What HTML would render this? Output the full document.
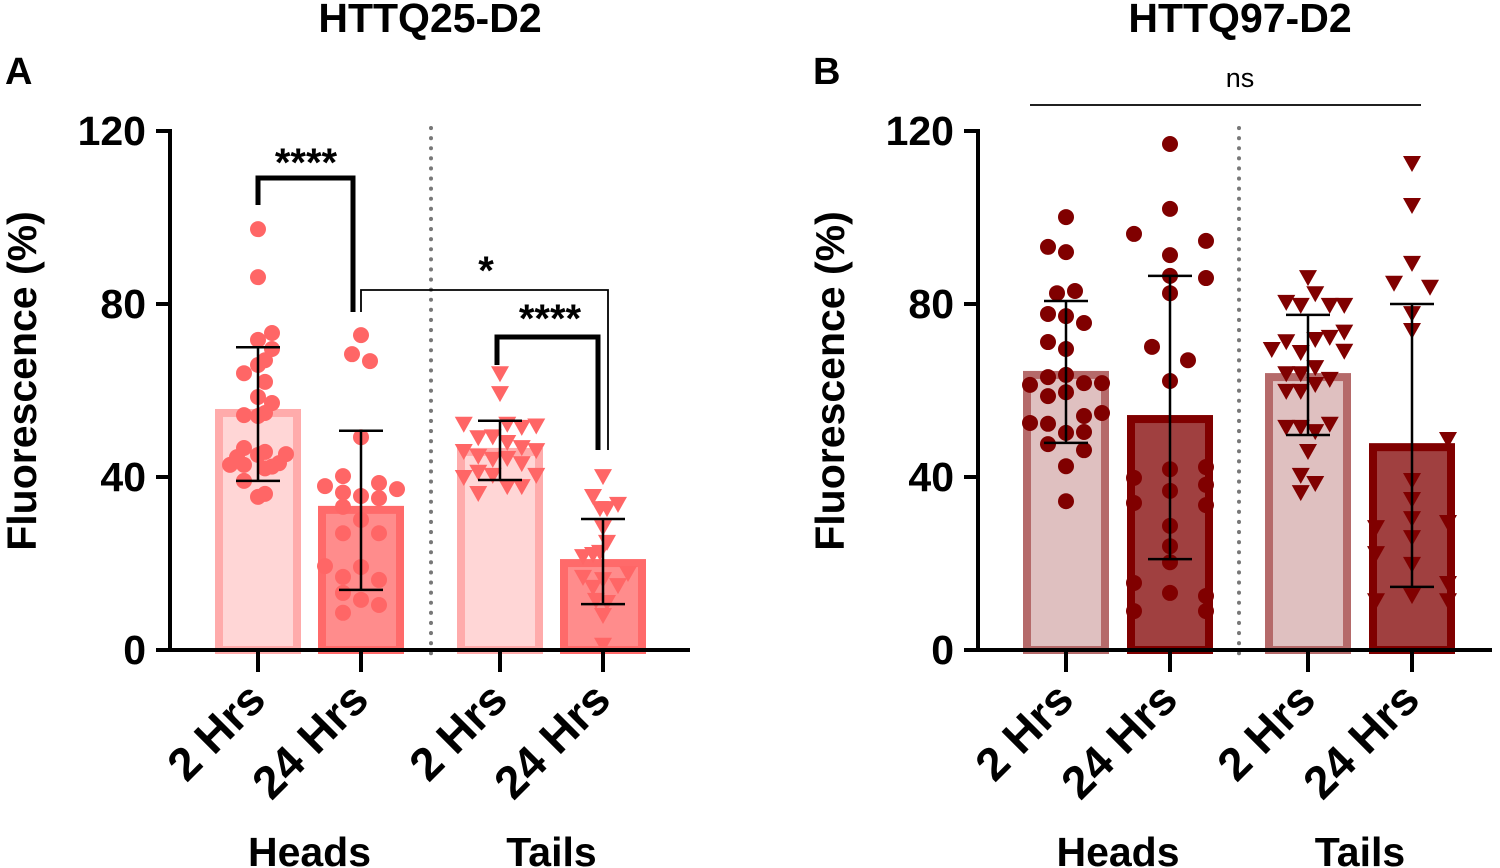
<!DOCTYPE html>
<html><head><meta charset="utf-8">
<style>
html,body{margin:0;padding:0;background:#fff;}
svg{display:block;font-family:"Liberation Sans",Arial,sans-serif;}
</style></head>
<body>
<svg id="chart" width="1500" height="868" viewBox="0 0 1500 868" xmlns="http://www.w3.org/2000/svg"></svg>
<script>
const yTicks=[0,40,80,120];
const xLabels=["2 Hrs","24 Hrs","2 Hrs","24 Hrs"];
const groupLabels=["Heads","Tails"];
// Panel A values
const a_h2=[97.3,86.2,73.3,71.7,69.6,67,65.9,64,62,58.5,57.1,54.3,54.1,54.8,46.7,45.8,45.3,45.1,44.6,42.8,42.8,43.2,42.4,42,39.1,36.1,35.4];
const a_h24=[72.8,68.4,66.8,49.2,40.2,37.9,38.6,37.2,36.4,35.6,35.1,33.1,30.1,27,27,19.4,19.2,16.9,16.2,13.2,11.6,10.4,8.6];
const a_t2=[64,59.4,52.3,52.3,51.6,51.9,49.2,49.4,48.1,46,46.9,46.2,44.9,44.2,44.4,43.2,40,41.2,40.5,40.5,37.9,37.9,36.3];
const a_t24=[40.2,35.6,33.8,32.8,32.8,28.4,25,21.7,22.2,22.7,16.9,14.6,16.4,15,17.8,11.6,11.1,8.1,1.2];
const a_means=[54.8,32.4,45.8,20.1];
const a_errHi=[70,50.7,53,30.3];
const a_errLo=[39.1,13.9,39.3,10.6];
// Panel B values
const b_h2=[100.1,93.2,92,82.5,83,77.7,77.2,75.6,71.2,69.6,63.1,63.6,61.3,61.7,61.7,58.7,59.6,54.1,54.8,52.5,52.3,50.2,50.4,47.6,46.2,42.5,34.4];
const b_h24=[117,102,96.2,94.6,91.3,86,86.5,82.5,70.1,67,62.2,41.8,39.8,42.3,36.8,34,38.2,33.5,28.7,24,20.3,15.5,13.2,12.5,9,9];
const b_t2=[86.2,82.5,80.5,79.8,79.8,79.8,73.6,71.4,71.9,72.4,69.6,68.9,69.2,64,64,65.4,62.7,59.9,59.9,61.5,51.6,51.6,50.6,52.3,46,40.5,38.6,36.5];
const b_t24=[112.6,102.9,89.5,84.9,84,77.9,74,48.8,39.3,34.9,30.5,26.1,28.4,29.6,22.4,19.9,15.5,12.7,11.5,11.5];
const b_means=[63.6,53.4,63.1,46.9];
const b_errHi=[80.7,86.5,77.5,80];
const b_errLo=[47.9,21,49.7,14.6];
// jitter offsets (marker slots, layout only)
const jA1=[0,0,1,0,1,.5,0,-1,.5,0,1,-1,0,.5,-1,.5,2,0,-1.5,-2,-1,1.5,1,.5,-1,.5,0];
const jA2=[0,-.5,.5,0,-1,-2,1,2,-1,0,1,-1,0,-1,1,-2,0,-1,1,-1,0,1,-1];
const jA3=[0,0,-2.5,.5,1.5,2.5,-1.5,-.5,.5,-2.5,1.5,2.5,-1.5,-.5,.5,1.5,-2.5,-1.5,-.5,2.5,.5,1.5,-1.5];
const jA4=[0,-1,1.5,-.3,.4,0,.4,-2,-1,-.3,-2,-1,0,1.5,2.5,-.7,.4,0,0];
const jB1=[0,-1,0,-.5,.5,-1,0,1,-1,0,-1,0,-2,1,2,-1,0,1,2,-2,-1,0,1,-1,1,0,0];
const jB2=[0,0,-2,2,0,2,0,0,-1,1,0,0,-2,2,0,-2,2,2,0,0,0,-2,0,2,-2,2];
const jB3=[0,.5,-1.5,-.5,1.5,2.5,2.5,-1.5,.5,1.5,-2.5,-.5,2.5,-1.5,-.5,.5,1.5,-1.5,-.5,.5,-1.5,-.5,.5,1.5,0,-.5,.5,-.5];
const jB4=[0,0,0,-1,1,0,0,2,0,0,0,0,-2,2,-2,0,2,0,-2,2];

const NS="http://www.w3.org/2000/svg";
const svg=document.getElementById('chart');
function mk(tag,attrs,parent){const e=document.createElementNS(NS,tag);for(const k in attrs)e.setAttribute(k,attrs[k]);(parent||svg).appendChild(e);return e;}
function yS(v){return 650-v*(519/120);}

function panel(cfg){
  const g=mk('g',{});
  
  
  const centers=cfg.centers;
  const sep=mk('line',{x1:cfg.sepX,y1:128,x2:cfg.sepX,y2:656,stroke:'#777','stroke-width':4,'stroke-dasharray':'0.1 10','stroke-linecap':'round'},g);
  
  
  for(let i=0;i<4;i++){
    const light=(i%2===0);
    const top=yS(cfg.means[i]);
    const r=mk('rect',{x:centers[i]-39,y:top,width:78,height:650-top,fill:light?cfg.lightFill:cfg.darkFill,stroke:light?cfg.lightStroke:cfg.darkStroke,'stroke-width':8},g);
    
    
  }
  for(let i=0;i<4;i++){
    const vals=cfg.series[i], jit=cfg.jit[i];
    vals.forEach((v,k)=>{
      const x=centers[i]+(jit[k]||0)*cfg.slot[i], y=yS(v);
      let p;
      if(i<2){p=mk('circle',{cx:x,cy:y,r:8,fill:cfg.marker},g);}
      else{p=mk('polygon',{points:`${x-9},${y-7} ${x+9},${y-7} ${x},${y+9}`,fill:cfg.marker},g);}
      
      
    });
  }
  for(let i=0;i<4;i++){
    const x=centers[i],hi=yS(cfg.hi[i]),lo=yS(cfg.lo[i]);
    const eg=mk('g',{stroke:'#000','stroke-width':2.5},g);
    
    
    mk('line',{x1:x,y1:hi,x2:x,y2:lo},eg);
    mk('line',{x1:x-22,y1:hi,x2:x+22,y2:hi},eg);
    mk('line',{x1:x-22,y1:lo,x2:x+22,y2:lo},eg);
  }
  const ax=cfg.axisX;
  const yAx=mk('line',{x1:ax,y1:129,x2:ax,y2:652,stroke:'#000','stroke-width':4},g);
  
  const xAx=mk('line',{x1:ax-2,y1:650,x2:cfg.axisEnd,y2:650,stroke:'#000','stroke-width':4},g);
  
  yTicks.forEach(t=>{
    const y=yS(t);
    mk('line',{x1:ax-14,y1:y,x2:ax,y2:y,stroke:'#000','stroke-width':4},g);
    const tx=mk('text',{x:ax-24,y:y+14,'text-anchor':'end','font-size':41,'font-weight':'bold'},g);
    tx.textContent=t;
    
  });
  centers.forEach((c,i)=>{
    mk('line',{x1:c,y1:650,x2:c,y2:672,stroke:'#000','stroke-width':4},g);
    const tx=mk('text',{x:c+10,y:702,'text-anchor':'end','font-size':46,'font-weight':'bold',transform:`rotate(-45 ${c+10} 702)`},g);
    tx.textContent=xLabels[i];
    
  });
  groupLabels.forEach((l,i)=>{
    const tx=mk('text',{x:(centers[i*2]+centers[i*2+1])/2,y:866,'text-anchor':'middle','font-size':41,'font-weight':'bold'},g);
    tx.textContent=l;
    
  });
  const yt=mk('text',{x:0,y:0,'text-anchor':'middle','font-size':41,'font-weight':'bold',transform:`translate(${cfg.letterX+31},381) rotate(-90)`},g);
  yt.textContent='Fluorescence (%)';
  
  const tt=mk('text',{x:cfg.titleX,y:32,'text-anchor':'middle','font-size':41,'font-weight':'bold'},g);
  tt.textContent=cfg.title;
  
  const pl=mk('text',{x:cfg.letterX,y:84,'font-size':38,'font-weight':'bold'},g);
  pl.textContent=cfg.letter;
  
  return g;
}

panel({name:'panel-a',centers:[258,361,500,603],sepX:431,axisX:170,axisEnd:690,
  means:a_means,hi:a_errHi,lo:a_errLo,series:[a_h2,a_h24,a_t2,a_t24],jit:[jA1,jA2,jA3,jA4],slot:[14,18,14.5,10],
  lightFill:'#ffd6d6',lightStroke:'#ffabab',darkFill:'#ff8c8c',darkStroke:'#ff6a6a',marker:'#ff6666',
  title:'HTTQ25-D2',titleX:430,letter:'A',letterX:5});
panel({name:'panel-b',centers:[1066,1170,1308,1412],sepX:1239,axisX:978,axisEnd:1492,
  means:b_means,hi:b_errHi,lo:b_errLo,series:[b_h2,b_h24,b_t2,b_t24],jit:[jB1,jB2,jB3,jB4],slot:[18,18,14.5,18],
  lightFill:'#dfc0c0',lightStroke:'#b56a6a',darkFill:'#a04040',darkStroke:'#800000',marker:'#800000',
  title:'HTTQ97-D2',titleX:1240,letter:'B',letterX:813});

function bracket(pts,w,name){
  const p=mk('polyline',{points:pts,fill:'none',stroke:'#000','stroke-width':w});
  
}
function star(x,y,t,size,weight,name){
  const tx=mk('text',{x:x,y:y,'text-anchor':'middle','font-size':size,'font-weight':weight});
  tx.textContent=t;
}
bracket('258,205 258,178 353,178 353,312',5,'significance-bracket-heads');
star(306,176,'****',40,'bold','significance-label-heads');
bracket('361,312 361,290 608,290 608,450',1.8,'significance-bracket-24h');
star(486,284,'*',40,'bold','significance-label-24h');
bracket('497,365 497,337 598,337 598,450',5,'significance-bracket-tails');
star(550,332,'****',40,'bold','significance-label-tails');
bracket('1030,105 1421,105',1.8,'significance-line-ns');
star(1240,87,'ns',27,'normal','significance-label-ns');
</script>
</body></html>
